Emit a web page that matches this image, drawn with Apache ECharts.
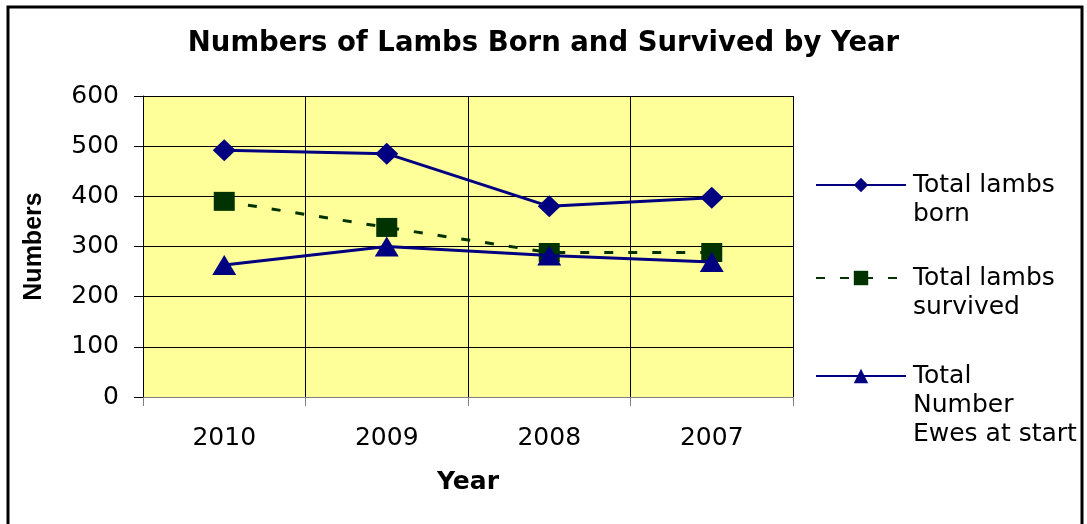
<!DOCTYPE html>
<html>
<head>
<meta charset="utf-8">
<script src="https://cdn.jsdelivr.net/npm/echarts@6/dist/echarts.min.js"></script>
<style>html,body{margin:0;padding:0;background:#fff}#c{width:1087px;height:524px}</style>
</head>
<body>
<div id="c"></div>
<script>
const years = ['2010', '2009', '2008', '2007'];
const lambsBorn = [492, 485, 380, 397];
const lambsSurvived = [390, 338, 288, 288];
const ewesAtStart = [263, 300, 282, 269];
const yTicks = [0, 100, 200, 300, 400, 500, 600];
const seriesNames = ['Total lambs born', 'Total lambs survived', 'Total Number Ewes at start'];
const legendLabels = {
  'Total lambs born': '\nTotal lambs\nborn',
  'Total lambs survived': '\nTotal lambs\nsurvived',
  'Total Number Ewes at start': '\n\nTotal\nNumber\nEwes at start'
};

const chart = echarts.init(document.getElementById('c'), null, {renderer: 'canvas'});
const txt = {fontFamily: 'DejaVu Sans', color: '#000'};
const legendBase = {
  orient: 'vertical', left: 815, itemWidth: 90, itemHeight: 18, itemGap: 0, padding: 0,
  textStyle: Object.assign({fontSize: 25, lineHeight: 29, padding: [0, 0, 0, 2]}, txt),
  formatter: n => legendLabels[n], selectedMode: false
};
chart.setOption({
  backgroundColor: '#fff',
  animation: false,
  title: {
    text: 'Numbers of Lambs Born and Survived by Year',
    left: 'center', top: 25,
    textStyle: {fontFamily: 'DejaVu Sans', fontWeight: 'bold', fontSize: 27.5, color: '#000'}
  },
  graphic: [{
    type: 'rect', shape: {x: 8, y: 7, width: 1074, height: 530},
    style: {fill: 'none', stroke: '#000', lineWidth: 3}, silent: true, z: 100
  }],
  legend: [
    Object.assign({}, legendBase, {data: [seriesNames[0]], top: 185 - 43.5}),
    Object.assign({}, legendBase, {data: [seriesNames[1]], top: 278 - 43.5}),
    Object.assign({}, legendBase, {data: [seriesNames[2]], top: 376 - 72.5})
  ],
  grid: {left: 143, right: 294, top: 96, bottom: 127, show: true, backgroundColor: '#FFFF99', borderWidth: 0},
  xAxis: {
    type: 'category', data: years, boundaryGap: true,
    name: 'Year', nameLocation: 'middle', nameGap: 73,
    nameTextStyle: {fontFamily: 'DejaVu Sans', fontWeight: 'bold', fontSize: 25, color: '#000'},
    axisLine: {lineStyle: {color: '#808080', width: 1}},
    axisTick: {show: true, length: 9, lineStyle: {color: '#808080'}},
    axisLabel: Object.assign({fontSize: 25, margin: 29}, txt),
    splitLine: {show: true, lineStyle: {color: '#000', width: 1}}
  },
  yAxis: {
    type: 'value', min: 0, max: 600, interval: 100,
    name: 'Numbers', nameLocation: 'middle', nameGap: 96, nameRotate: 90,
    nameTextStyle: {fontFamily: 'Liberation Sans', fontWeight: 'bold', fontSize: 25, color: '#000'},
    axisLine: {show: true, lineStyle: {color: '#000', width: 1}},
    axisTick: {show: true, length: 9, lineStyle: {color: '#000'}},
    axisLabel: Object.assign({fontSize: 25, margin: 24, formatter: v => yTicks.includes(v) ? String(v) : ''}, txt),
    splitLine: {show: true, lineStyle: {color: '#000', width: 1}}
  },
  series: [
    {
      name: seriesNames[0], type: 'line', data: lambsBorn,
      symbol: 'diamond', symbolSize: [23, 22],
      lineStyle: {color: '#000080', width: 3}, itemStyle: {color: '#000080'}, z: 3
    },
    {
      name: seriesNames[1], type: 'line', data: lambsSurvived,
      symbol: 'rect', symbolSize: [21, 19],
      lineStyle: {color: '#003300', width: 3, type: [9, 15]}, itemStyle: {color: '#003300'}, z: 4
    },
    {
      name: seriesNames[2], type: 'line', data: ewesAtStart,
      symbol: 'triangle', symbolSize: [24, 20],
      lineStyle: {color: '#000080', width: 3}, itemStyle: {color: '#000080'}, z: 5
    }
  ]
});
</script>
</body>
</html>
